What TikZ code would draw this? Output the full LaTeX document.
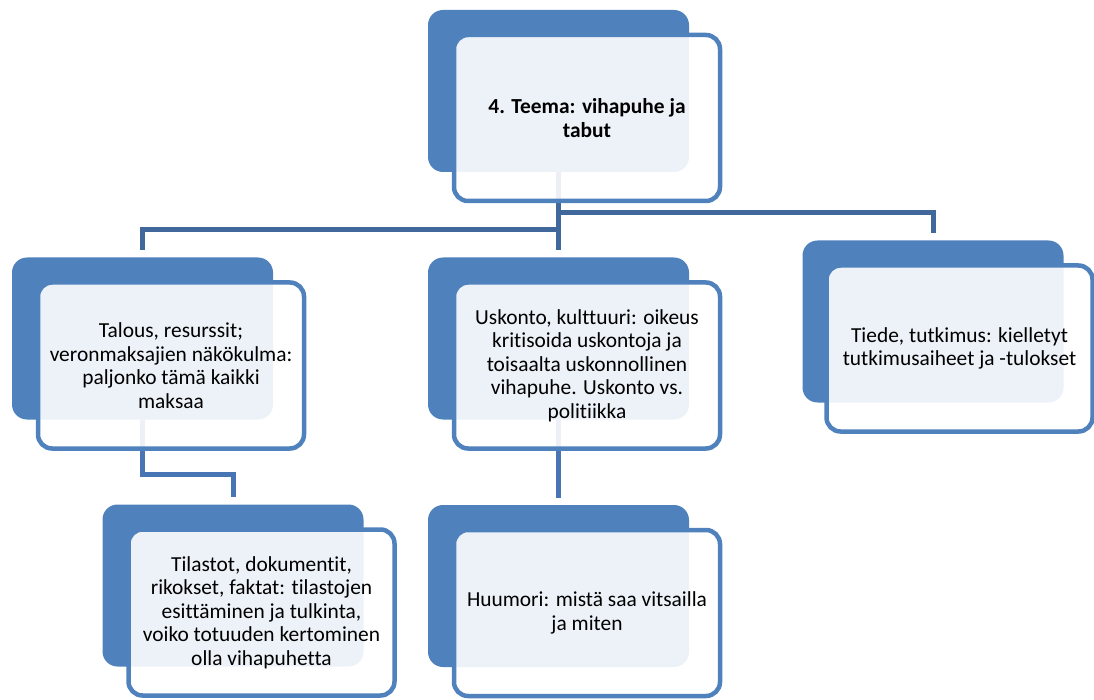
\documentclass[tikz,border=0pt]{standalone}
\usepackage{fontspec}
\setmainfont{Carlito}[Ligatures={NoCommon}]
\usetikzlibrary{calc}
\definecolor{boxblue}{RGB}{79,129,189}
\definecolor{connA}{RGB}{64,104,154}
\definecolor{connB}{RGB}{72,118,180}
\begin{document}
\begin{tikzpicture}[x=1pt,y=-1pt,
  backbox/.style={rectangle, rounded corners=15pt, fill=boxblue, minimum width=261pt, minimum height=162pt, inner sep=0pt},
  frontbox/.style={rectangle, rounded corners=14pt, draw=boxblue, line width=4.5pt, fill=white, fill opacity=0.9, text opacity=1, minimum width=266pt, minimum height=166pt, align=center, inner sep=0pt, font=\fontsize{21.4}{23.6}\selectfont},
  connlineA/.style={draw=connA, line width=5pt},
  connlineB/.style={draw=connB, line width=5pt}]
\useasboundingbox (0,0) rectangle (1094,700);
% back boxes
\node[backbox] (tB) at (558.5,91) {};
\node[backbox] (lB) at (142.5,338.5) {};
\node[backbox] (mB) at (558.5,338.5) {};
\node[backbox] (rB) at (933,321.5) {};
\node[backbox] (blB) at (233,585.5) {};
\node[backbox] (bmB) at (558.5,586) {};
% connectors
\draw[connlineA] (tB.south) -- ([yshift=7pt]mB.north);
\draw[connlineA] ([yshift=-40pt]tB.south) -| ([yshift=7pt]rB.north);
\draw[connlineA] ([yshift=-57pt]tB.south) -| ([yshift=7pt]lB.north);
\draw[connlineB] (lB.south) -- ([yshift=-55pt]lB.south) -| ([yshift=7pt]blB.north);
\draw[connlineB] (mB.south) -- ([yshift=7pt]bmB.north);
% front boxes
\node[frontbox] (tF) at (587,118) {\bfseries 4. Teema: vihapuhe ja\\\bfseries tabut};
\node[frontbox] (lF) at (171,365.5) {Talous, resurssit;\\veronmaksajien näkökulma:\\paljonko tämä kaikki\\maksaa};
\node[frontbox] (mF) at (587,365.5) {Uskonto, kulttuuri: oikeus\\kritisoida uskontoja ja\\toisaalta uskonnollinen\\vihapuhe. Uskonto vs.\\politiikka};
\node[frontbox] (rF) at (959.5,348.5) {Tiede, tutkimus: kielletyt\\tutkimusaiheet ja -tulokset};
\node[frontbox] (blF) at (261.5,612.5) {Tilastot, dokumentit,\\rikokset, faktat: tilastojen\\esittäminen ja tulkinta,\\voiko totuuden kertominen\\olla vihapuhetta};
\node[frontbox] (bmF) at (587,613) {Huumori: mistä saa vitsailla\\ja miten};
\end{tikzpicture}
\end{document}
